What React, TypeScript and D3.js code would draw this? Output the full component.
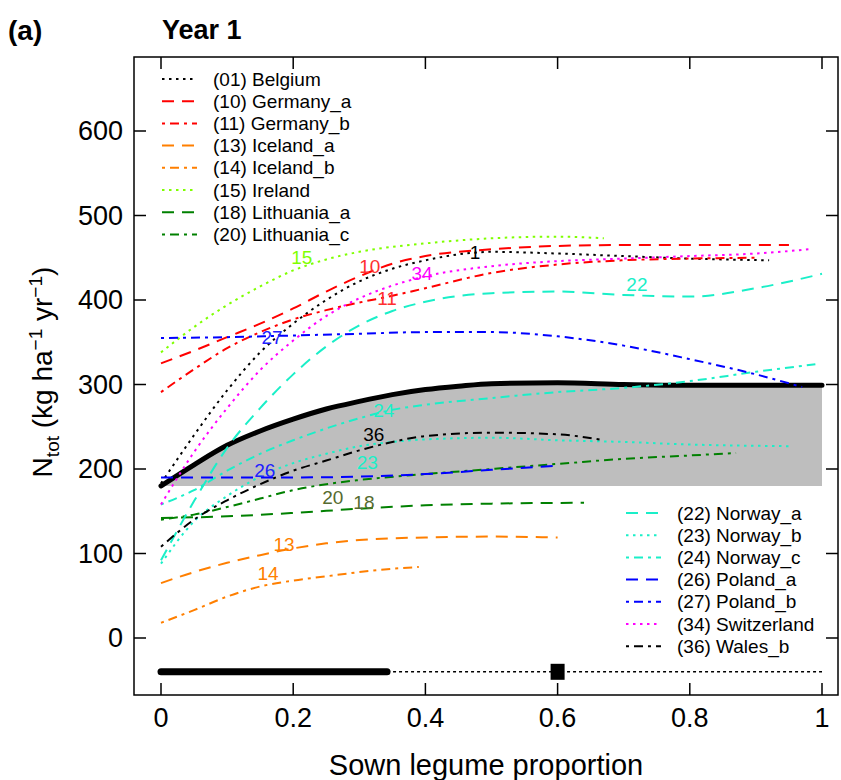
import React from "react";
import * as d3 from "d3";

// ---------- data (x = sown legume proportion, y = N_tot kg/ha/yr) ----------
const belgium = [[0,183],[0.05,240],[0.1,293],[0.15,338],[0.2,372],[0.25,400],[0.3,422],[0.35,437],[0.4,447],[0.46,455],[0.5,457],[0.6,455],[0.7,452],[0.8,449],[0.92,447]];
const germanyA = [[0,325],[0.05,340],[0.1,356],[0.15,372],[0.2,390],[0.25,410],[0.3,428],[0.35,443],[0.4,452],[0.5,460],[0.6,464],[0.7,465],[0.8,465],[0.95,465]];
const germanyB = [[0,291],[0.05,318],[0.1,343],[0.15,362],[0.2,377],[0.25,388],[0.3,397],[0.35,405],[0.4,414],[0.5,432],[0.6,442],[0.7,447],[0.8,449],[0.9,450]];
const icelandA = [[0,65],[0.05,78],[0.1,89],[0.15,98],[0.2,106],[0.25,112],[0.3,116],[0.4,119],[0.5,120],[0.6,119]];
const icelandB = [[0,18],[0.05,33],[0.1,49],[0.15,61],[0.2,68],[0.25,73],[0.3,78],[0.35,82],[0.39,84]];
const ireland = [[0,338],[0.05,368],[0.1,394],[0.15,416],[0.2,435],[0.25,448],[0.3,457],[0.4,467],[0.5,473],[0.6,475],[0.67,473]];
const lithuaniaA = [[0,142],[0.1,144],[0.2,148],[0.3,153],[0.4,157],[0.5,159],[0.64,160]];
const lithuaniaC = [[0,140],[0.05,146],[0.1,155],[0.15,165],[0.2,175],[0.25,182],[0.3,187],[0.4,194],[0.5,200],[0.6,206],[0.7,212],[0.8,216],[0.87,219]];
const norwayA = [[0,92],[0.05,162],[0.1,225],[0.15,272],[0.2,312],[0.25,345],[0.3,370],[0.35,387],[0.4,398],[0.5,408],[0.6,410],[0.7,406],[0.8,404],[0.9,414],[1,431]];
const norwayB = [[0,88],[0.05,138],[0.1,168],[0.15,191],[0.2,207],[0.25,218],[0.3,227],[0.35,232],[0.4,235],[0.5,237],[0.6,234],[0.7,232],[0.8,229],[0.95,227]];
const norwayC = [[0,158],[0.05,175],[0.1,198],[0.15,218],[0.2,234],[0.25,248],[0.3,260],[0.35,270],[0.4,276],[0.5,284],[0.6,291],[0.7,296],[0.8,304],[0.9,315],[0.99,324]];
const polandA = [[0,190],[0.1,190],[0.2,190],[0.3,191],[0.4,194],[0.5,199],[0.6,204]];
const polandB = [[0,355],[0.1,356],[0.2,358],[0.3,360],[0.4,362],[0.5,362],[0.6,357],[0.7,346],[0.8,330],[0.9,312],[0.97,297]];
const switzerland = [[0,158],[0.05,220],[0.1,272],[0.15,317],[0.2,352],[0.25,381],[0.3,402],[0.35,417],[0.4,428],[0.5,440],[0.6,446],[0.7,449],[0.8,452],[0.9,455],[0.98,460]];
const walesB = [[0,108],[0.05,140],[0.1,163],[0.15,182],[0.2,198],[0.25,210],[0.3,222],[0.35,232],[0.4,239],[0.5,243],[0.6,241],[0.67,234]];
const overall = [[0,180],[0.05,205],[0.1,228],[0.15,245],[0.2,259],[0.25,271],[0.3,280],[0.35,288],[0.4,294],[0.45,298],[0.5,301],[0.6,302],[0.7,300],[0.8,299],[0.9,299],[1,299]];
const bandFloor = 180;

const siteCodes = ["01","10","11","13","14","15","18","20","22","23","24","26","27","34","36"];
const siteNames = ["Belgium","Germany_a","Germany_b","Iceland_a","Iceland_b","Ireland","Lithuania_a","Lithuania_c","Norway_a","Norway_b","Norway_c","Poland_a","Poland_b","Switzerland","Wales_b"];
const siteSeries = [belgium,germanyA,germanyB,icelandA,icelandB,ireland,lithuaniaA,lithuaniaC,norwayA,norwayB,norwayC,polandA,polandB,switzerland,walesB];
const siteColors = ["#000000","#FF0000","#FF0000","#FF7F00","#FF7F00","#7FFF00","#008000","#008000","#1AEFC8","#1AEFC8","#1AEFC8","#0000FF","#0000FF","#FF00FF","#000000"];
const siteDash = ["dot","dash","dotdash","dash","dotdash","dot","dash","dotdash","dash","dot","dotdash","dash","dotdash","dot","dotdash"];
// curve-label anchor (x, y in data units)
const labelText = ["1","10","11","13","14","15","18","20","22","23","24","26","27","34","36"];
const labelX = [0.475,0.316,0.342,0.186,0.162,0.213,0.307,0.26,0.72,0.312,0.337,0.157,0.168,0.395,0.322];
const labelY = [456,440,402,111,76,450,160,167,418,208,270,198,356,431,241];
const labelColors = ["#000000","#FF3030","#FF3030","#FF7F00","#FF7F00","#7FFF00","#556B2F","#556B2F","#1AEFC8","#1AEFC8","#1AEFC8","#2020FF","#2020FF","#FF00FF","#000000"];

const xTicks = [0, 0.2, 0.4, 0.6, 0.8, 1];
const xTickLabels = ["0", "0.2", "0.4", "0.6", "0.8", "1"];
const yTicks = [0, 100, 200, 300, 400, 500, 600];

// summary bar under the curves
const summaryLevel = -40;
const summaryThick = [0, 0.342];
const summaryThin = [0.342, 1];
const summaryPoint = 0.6;

const legendLeft = [0,1,2,3,4,5,6,7];
const legendRight = [8,9,10,11,12,13,14];

const dashMap: Record<string,string> = { dot: "2.5,4.5", dash: "12,8", dotdash: "3,5,9,5" };
const FONT = "'Liberation Sans', Arial, Helvetica, sans-serif";

export default function App() {
  const W = 841, H = 780;
  const x = d3.scaleLinear().domain([0, 1]).range([161, 822]);
  const y = d3.scaleLinear().domain([0, 600]).range([638, 131]);
  const box = { left: 134, right: 838, top: 57, bottom: 695 };

  const line = d3.line<number[]>().x(d => x(d[0])).y(d => y(d[1])).curve(d3.curveMonotoneX);
  const area = d3.area<number[]>().x(d => x(d[0])).y0(y(bandFloor)).y1(d => y(d[1])).curve(d3.curveMonotoneX);

  const tickLen = 12;
  const legRowH = 22.2;

  const renderLegend = (idx: number[], x0: number, y0: number) =>
    idx.map((k, i) => {
      const yy = y0 + i * legRowH;
      return (
        <g key={"lg" + k}>
          <line x1={x0} x2={x0 + 35} y1={yy} y2={yy} stroke={siteColors[k]} strokeWidth={2}
            strokeDasharray={dashMap[siteDash[k]]} />
          <text x={x0 + 51} y={yy} dy="0.35em" fontSize={19} fontFamily={FONT} fill="#000">
            {`(${siteCodes[k]}) ${siteNames[k]}`}
          </text>
        </g>
      );
    });

  return (
    <svg width={W} height={H} style={{ position: "absolute", left: 0, top: 0, background: "#fff" }}>
      <rect x={0} y={0} width={W} height={H} fill="#fff" />
      {/* band */}
      <path d={area(overall) || ""} fill="#BEBEBE" />
      <path d={line(overall) || ""} fill="none" stroke="#000" strokeWidth={5} strokeLinecap="round" />

      {/* site curves */}
      {siteSeries.map((s, k) => (
        <path key={"s" + k} d={line(s) || ""} fill="none" stroke={siteColors[k]} strokeWidth={2}
          strokeDasharray={dashMap[siteDash[k]]} />
      ))}

      {/* curve labels */}
      {labelText.map((t, k) => (
        <text key={"lab" + k} x={x(labelX[k])} y={y(labelY[k])} dy="0.35em" textAnchor="middle"
          fontSize={19} fontFamily={FONT} fill={labelColors[k]}>{t}</text>
      ))}

      {/* summary bar */}
      <line x1={x(summaryThin[0])} x2={x(summaryThin[1])} y1={y(summaryLevel)} y2={y(summaryLevel)}
        stroke="#000" strokeWidth={1.5} strokeDasharray="3,3" />
      <line x1={x(summaryThick[0])} x2={x(summaryThick[1])} y1={y(summaryLevel)} y2={y(summaryLevel)}
        stroke="#000" strokeWidth={7} strokeLinecap="round" />
      <rect x={x(summaryPoint) - 7} y={y(summaryLevel) - 8} width={14} height={16} fill="#000" />

      {/* legends */}
      {renderLegend(legendLeft, 162, 79)}
      {renderLegend(legendRight, 626, 513)}

      {/* box & ticks */}
      <rect x={box.left} y={box.top} width={box.right - box.left} height={box.bottom - box.top}
        fill="none" stroke="#000" strokeWidth={1.5} />
      {xTicks.map((t, i) => (
        <g key={"xt" + i}>
          <line x1={x(t)} x2={x(t)} y1={box.bottom} y2={box.bottom - tickLen} stroke="#000" strokeWidth={1.5} />
          <line x1={x(t)} x2={x(t)} y1={box.top} y2={box.top + tickLen} stroke="#000" strokeWidth={1.5} />
          <text x={x(t)} y={718} dy="0.35em" textAnchor="middle" fontSize={27} fontFamily={FONT}>{xTickLabels[i]}</text>
        </g>
      ))}
      {yTicks.map((t, i) => (
        <g key={"yt" + i}>
          <line x1={box.left} x2={box.left + tickLen} y1={y(t)} y2={y(t)} stroke="#000" strokeWidth={1.5} />
          <line x1={box.right} x2={box.right - tickLen} y1={y(t)} y2={y(t)} stroke="#000" strokeWidth={1.5} />
          <text x={123} y={y(t)} dy="0.35em" textAnchor="end" fontSize={27} fontFamily={FONT}>{t}</text>
        </g>
      ))}

      {/* axis titles */}
      <text x={486} y={765} dy="0.35em" textAnchor="middle" fontSize={29} fontFamily={FONT}>Sown legume proportion</text>
      <text transform="translate(42,372) rotate(-90)" textAnchor="middle" dy="0.35em" fontSize={28} fontFamily={FONT}>
        N<tspan fontSize={19} dy="7">tot</tspan>
        <tspan dy="-7"> (kg ha</tspan>
        <tspan fontSize={19} dy="-10">−1</tspan>
        <tspan dy="10"> yr</tspan>
        <tspan fontSize={19} dy="-10">−1</tspan>
        <tspan dy="10">)</tspan>
      </text>

      {/* panel titles */}
      <text x={8} y={30} dy="0.35em" fontSize={28} fontWeight="bold" fontFamily={FONT}>(a)</text>
      <text x={162} y={30} dy="0.35em" fontSize={27} fontWeight="bold" fontFamily={FONT}>Year 1</text>
    </svg>
  );
}
